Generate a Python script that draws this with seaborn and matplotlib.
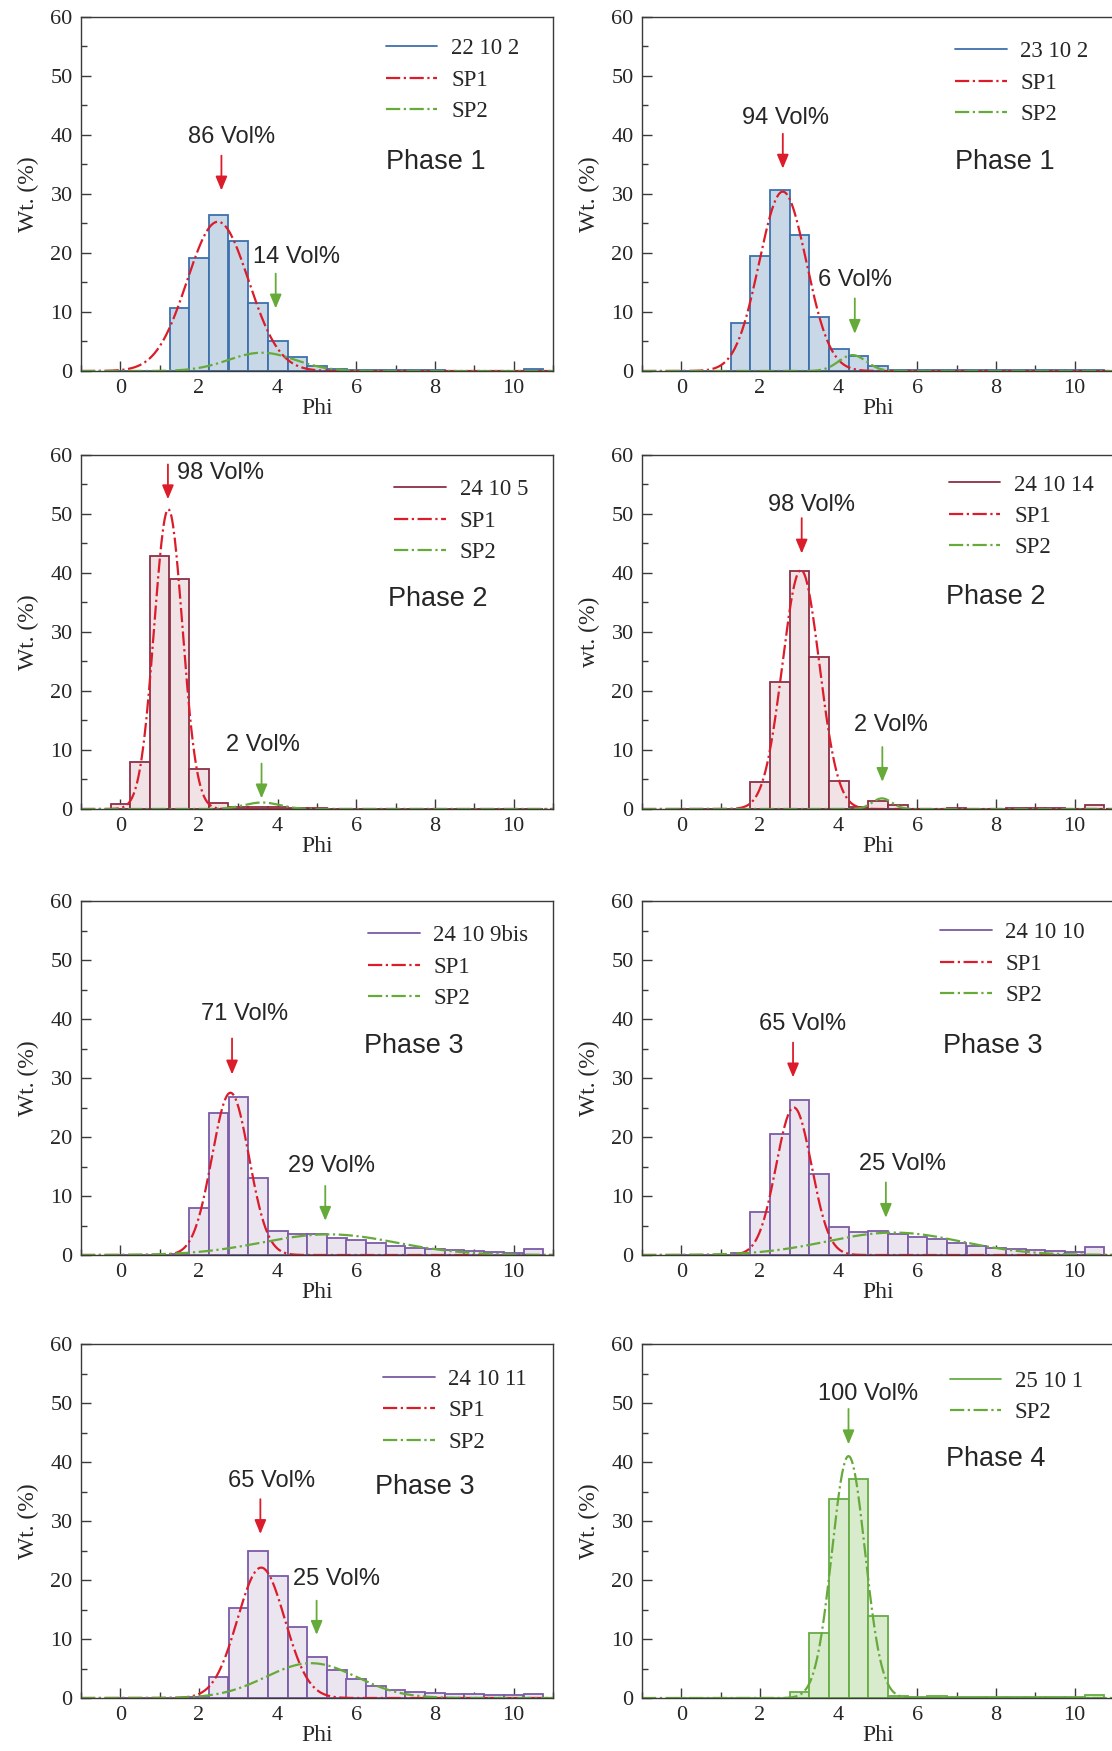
import numpy as np
import pandas as pd
import matplotlib
matplotlib.use('Agg')
import matplotlib.pyplot as plt
from matplotlib.lines import Line2D
from matplotlib.ticker import MultipleLocator
import seaborn as sns

# grain size classes (phi), 0.5 phi wide
phi_bins = [0.0, 0.5, 1.0, 1.5, 2.0, 2.5, 3.0, 3.5, 4.0, 4.5, 5.0,
            5.5, 6.0, 6.5, 7.0, 7.5, 8.0, 8.5, 9.0, 9.5, 10.0, 10.5]
bin_edges = [-0.25, 0.25, 0.75, 1.25, 1.75, 2.25, 2.75, 3.25, 3.75, 4.25, 4.75, 5.25,
             5.75, 6.25, 6.75, 7.25, 7.75, 8.25, 8.75, 9.25, 9.75, 10.25, 10.75]

samples = ['22 10 2', '23 10 2', '24 10 5', '24 10 14',
           '24 10 9bis', '24 10 10', '24 10 11', '25 10 1']
phases = ['Phase 1', 'Phase 1', 'Phase 2', 'Phase 2',
          'Phase 3', 'Phase 3', 'Phase 3', 'Phase 4']
ylabels = ['Wt. (%)', 'Wt. (%)', 'Wt. (%)', 'wt. (%)',
           'Wt. (%)', 'Wt. (%)', 'Wt. (%)', 'Wt. (%)']

wt_22_10_2 = [0, 0, 0, 10.7, 19.2, 26.5, 22.0, 11.5, 5.1, 2.3, 0.9,
              0.3, 0.1, 0.1, 0.1, 0.1, 0.1, 0.05, 0.05, 0.05, 0.05, 0.35]
wt_23_10_2 = [0, 0, 0, 8.2, 19.5, 30.7, 23.0, 9.2, 3.8, 2.5, 0.85,
              0.1, 0.15, 0.15, 0.1, 0.1, 0.1, 0.1, 0.1, 0.1, 0.1, 0.15]
wt_24_10_5 = [0.85, 8.0, 42.9, 39.0, 6.7, 1.0, 0.3, 0.4, 0.3, 0.1, 0.1,
              0.05, 0.05, 0.05, 0.05, 0.05, 0.05, 0.05, 0.05, 0.05, 0.05, 0.05]
wt_24_10_14 = [0, 0, 0, 0, 4.6, 21.5, 40.3, 25.7, 4.7, 0.4, 1.4,
               0.6, 0.05, 0.05, 0.1, 0.05, 0.05, 0.1, 0.1, 0.1, 0.05, 0.6]
wt_24_10_9bis = [0, 0, 0, 0.1, 7.9, 24.1, 26.8, 13.1, 4.1, 3.5, 3.5,
                 2.9, 2.5, 2.0, 1.6, 1.2, 1.0, 0.8, 0.7, 0.5, 0.35, 1.0]
wt_24_10_10 = [0, 0, 0, 0.3, 7.3, 20.5, 26.2, 13.7, 4.8, 3.9, 4.1,
               3.6, 3.1, 2.7, 2.0, 1.6, 1.25, 1.0, 0.8, 0.7, 0.45, 1.3]
wt_24_10_11 = [0, 0, 0, 0, 0.2, 3.5, 15.2, 24.9, 20.6, 12.0, 6.9,
               4.7, 3.2, 2.1, 1.4, 1.1, 0.9, 0.75, 0.75, 0.55, 0.45, 0.7]
wt_25_10_1 = [0, 0, 0, 0, 0, 0, 1.1, 11.1, 33.8, 37.2, 13.9,
              0.4, 0.1, 0.4, 0.1, 0.1, 0.1, 0.1, 0.1, 0.1, 0.1, 0.5]
weights = [wt_22_10_2, wt_23_10_2, wt_24_10_5, wt_24_10_14,
           wt_24_10_9bis, wt_24_10_10, wt_24_10_11, wt_25_10_1]

# fitted sub-populations: mode (phi), peak height (wt %), spread (phi)
sp1_mode = [2.48, 2.58, 1.22, 3.04, 2.80, 2.86, 3.58, None]
sp1_peak = [25.3, 30.4, 50.8, 40.5, 27.5, 25.0, 22.1, None]
sp1_sd = [0.78, 0.60, 0.36, 0.47, 0.47, 0.45, 0.60, None]
sp2_mode = [3.6, 4.35, 3.6, 5.1, 5.3, 5.4, 4.85, 4.25]
sp2_peak = [3.1, 2.7, 1.1, 1.8, 3.5, 3.8, 5.9, 41.0]
sp2_sd = [0.85, 0.35, 0.45, 0.25, 1.7, 1.7, 1.15, 0.42]

sp1_vol = ['86 Vol%', '94 Vol%', '98 Vol%', '98 Vol%', '71 Vol%', '65 Vol%', '65 Vol%', None]
sp2_vol = ['14 Vol%', '6 Vol%', '2 Vol%', '2 Vol%', '29 Vol%', '25 Vol%', '25 Vol%', '100 Vol%']

# colours per panel (edge, fill)
edge_cols = ['#3d70ad', '#3d70ad', '#8c2f45', '#8c2f45',
             '#7b5ba6', '#7b5ba6', '#7b5ba6', '#66ad45']
fill_cols = ['#c9d8e7', '#c9d8e7', '#f1e2e5', '#f1e2e5',
             '#ebe5f0', '#ebe5f0', '#ebe5f0', '#d9ebcd']
red = '#dc1c2a'
green = '#66aa3a'

# placement of annotations (data coords): text x,y ; arrow x, y_from, y_to
sp1_note = [(2.84, 39.7, 2.57, 36.5, 30.6), (2.64, 42.8, 2.58, 40.2, 34.3),
            (2.54, 57.0, 1.21, 58.4, 52.5), (3.32, 51.5, 3.06, 49.3, 43.3),
            (3.16, 40.8, 2.84, 36.7, 30.6), (3.08, 39.2, 2.84, 36.0, 30.1),
            (3.84, 36.8, 3.56, 33.7, 27.8), None]
sp2_note = [(4.49, 19.3, 3.95, 16.5, 10.6), (4.41, 15.4, 4.41, 12.3, 6.3),
            (3.62, 10.8, 3.59, 7.7, 1.8), (5.33, 14.2, 5.11, 10.5, 4.6),
            (5.37, 15.1, 5.21, 11.7, 5.8), (5.63, 15.5, 5.20, 12.3, 6.3),
            (5.50, 20.2, 4.99, 16.5, 10.7), (4.76, 51.5, 4.25, 49.0, 43.0)]
phase_pos = [(6.75, 35.4), (6.96, 35.4), (6.80, 35.6), (6.74, 36.0),
             (6.20, 35.4), (6.65, 35.4), (6.48, 35.7), (6.73, 40.5)]
legend_pos = [(6.75, 56.4), (6.96, 55.9), (6.97, 55.9), (6.80, 56.7),
              (6.30, 55.9), (6.58, 56.4), (6.68, 55.8), (6.82, 55.5)]

sns.set_style('ticks')
plt.rcParams['font.family'] = ['Liberation Serif', 'DejaVu Serif']
sans = 'Liberation Sans'

W, H = 1112, 1751
fig = plt.figure(figsize=(W / 100, H / 100), dpi=100)

col_left = [81, 642]
row_bottom = [371, 809, 1255, 1698]
ax_w, ax_h = 472, 354

xgrid = np.linspace(-1, 11, 600)

for i in range(8):
    r, c = divmod(i, 2)
    ax = fig.add_axes([col_left[c] / W, 1 - row_bottom[r] / H, ax_w / W, ax_h / H])

    df = pd.DataFrame({'Phi': phi_bins, 'wt': weights[i]})
    sns.histplot(data=df, x='Phi', weights='wt', bins=bin_edges, ax=ax,
                 color=fill_cols[i], edgecolor=edge_cols[i], linewidth=1.3, alpha=1)

    handles = [Line2D([], [], color=edge_cols[i], lw=1.3)]
    labels = [samples[i]]
    if sp1_mode[i] is not None:
        y1 = sp1_peak[i] * np.exp(-(xgrid - sp1_mode[i]) ** 2 / (2 * sp1_sd[i] ** 2))
        sns.lineplot(x=xgrid, y=y1, ax=ax, color=red, lw=1.6, linestyle='-.',
                     sort=False, estimator=None)
        handles.append(Line2D([], [], color=red, lw=1.6, linestyle='-.'))
        labels.append('SP1')
    y2 = sp2_peak[i] * np.exp(-(xgrid - sp2_mode[i]) ** 2 / (2 * sp2_sd[i] ** 2))
    sns.lineplot(x=xgrid, y=y2, ax=ax, color=green, lw=1.6, linestyle='-.',
                 sort=False, estimator=None)
    handles.append(Line2D([], [], color=green, lw=1.6, linestyle='-.'))
    labels.append('SP2')

    arrow_style = '-|>,head_length=0.6,head_width=0.25'
    for note, txt, col in [(sp1_note[i], sp1_vol[i], red), (sp2_note[i], sp2_vol[i], green)]:
        if note is None:
            continue
        tx, ty, axx, y_from, y_to = note
        ax.text(tx, ty, txt, ha='center', va='center', fontsize=17, family=sans)
        ax.annotate('', xy=(axx, y_to), xytext=(axx, y_from),
                    arrowprops=dict(arrowstyle=arrow_style, color=col, lw=1.3,
                                    mutation_scale=14, shrinkA=0, shrinkB=0))

    ax.text(phase_pos[i][0], phase_pos[i][1], phases[i], ha='left', va='center',
            fontsize=19.5, family=sans)

    ax.legend(handles, labels, loc='upper left', bbox_to_anchor=legend_pos[i],
              bbox_transform=ax.transData, frameon=False, fontsize=16.5,
              borderpad=0, borderaxespad=0, handlelength=2.25,
              handletextpad=0.6, labelspacing=0.45)

    ax.set_xlim(-1, 11)
    ax.set_ylim(0, 60)
    ax.xaxis.set_major_locator(MultipleLocator(2))
    ax.xaxis.set_minor_locator(MultipleLocator(1))
    ax.yaxis.set_major_locator(MultipleLocator(10))
    ax.yaxis.set_minor_locator(MultipleLocator(5))
    ax.tick_params(which='both', direction='in', top=False, right=False,
                   color='#3a3a3a', width=1.0, labelsize=16, pad=6)
    ax.tick_params(which='major', length=7)
    ax.tick_params(which='minor', length=4)
    for s in ax.spines.values():
        s.set_color('#3a3a3a')
        s.set_linewidth(1.0)
    ax.set_xlabel('Phi', fontsize=17, labelpad=0)
    ax.set_ylabel(ylabels[i], fontsize=17, labelpad=8)

fig.savefig('out.png', dpi=100)
